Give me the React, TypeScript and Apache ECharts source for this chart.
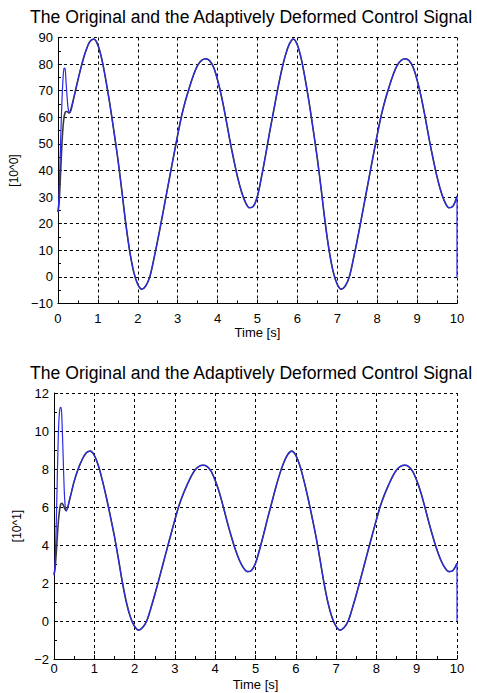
import React, { useEffect, useRef } from "react";
import * as echarts from "echarts";

const TITLE = "The Original and the Adaptively Deformed Control Signal";
const X_NAME = "Time [s]";
const TOP_Y_NAME = "[10^0]";
const BOTTOM_Y_NAME = "[10^1]";

const TIME = [
  0, 0.025, 0.05, 0.075, 0.1, 0.125, 0.15, 0.175, 0.2, 0.225, 0.25, 0.275, 0.3,
  0.4, 0.5, 0.6, 0.7, 0.8, 0.9, 1.0,
  1.1, 1.2, 1.3, 1.4, 1.5, 1.6, 1.7, 1.8, 1.9, 2.0,
  2.1, 2.2, 2.3, 2.4, 2.5, 2.6, 2.7, 2.8, 2.9, 3.0,
  3.1, 3.2, 3.3, 3.4, 3.5, 3.6, 3.7, 3.8, 3.9, 4.0,
  4.1, 4.2, 4.3, 4.4, 4.5, 4.6, 4.7, 4.8, 4.9, 5.0,
  5.1, 5.2, 5.3, 5.4, 5.5, 5.6, 5.7, 5.8, 5.9, 6.0,
  6.1, 6.2, 6.3, 6.4, 6.5, 6.6, 6.7, 6.8, 6.9, 7.0,
  7.1, 7.2, 7.3, 7.4, 7.5, 7.6, 7.7, 7.8, 7.9, 8.0,
  8.1, 8.2, 8.3, 8.4, 8.5, 8.6, 8.7, 8.8, 8.9, 9.0,
  9.1, 9.2, 9.3, 9.4, 9.5, 9.6, 9.7, 9.8, 9.9, 10.0,
];

const TOP_ORIGINAL = [
  24.4, 27, 34, 42, 50, 56, 59.8, 61.6, 62.2, 62.2, 61.9, 61.6, 61.8,
  67.5, 74, 80, 85, 88.5, 89.4, 87.2,
  81.8, 74, 65, 55, 44.5, 32.5, 20, 9.5, 1.8, -2.8,
  -4.6, -3.4, 0, 6.5, 13.8, 21.6, 29.6, 37.6, 45.5, 53.3,
  60.6, 66.5, 71.5, 76, 79.5, 81.4, 82, 81.3, 78.8, 74,
  67.8, 60.2, 52, 44.5, 37.6, 32, 28, 26, 26.6, 30.4,
  37.5, 45.5, 54, 62, 70, 77.3, 83.3, 87.6, 89.4, 87.2,
  81.8, 74, 65, 55, 44.5, 32.5, 20, 9.5, 1.8, -2.8,
  -4.6, -3.4, 0, 6.5, 13.8, 21.6, 29.6, 37.6, 45.5, 53.3,
  60.6, 66.5, 71.5, 76, 79.5, 81.4, 82, 81.3, 78.8, 74,
  67.8, 60.2, 52, 44.5, 37.6, 32, 28, 26, 26.6, 30.4,
];

const TOP_DEFORMED = [
  24.4, 30, 42, 55, 66, 74, 78.3, 78.5, 74, 68.5, 64, 62, 61.8,
  67.5, 74, 80, 85, 88.5, 89.4, 87.2,
  81.8, 74, 65, 55, 44.5, 32.5, 20, 9.5, 1.8, -2.8,
  -4.6, -3.4, 0, 6.5, 13.8, 21.6, 29.6, 37.6, 45.5, 53.3,
  60.6, 66.5, 71.5, 76, 79.5, 81.4, 82, 81.3, 78.8, 74,
  67.8, 60.2, 52, 44.5, 37.6, 32, 28, 26, 26.6, 30.4,
  37.5, 45.5, 54, 62, 70, 77.3, 83.3, 87.6, 89.4, 87.2,
  81.8, 74, 65, 55, 44.5, 32.5, 20, 9.5, 1.8, -2.8,
  -4.6, -3.4, 0, 6.5, 13.8, 21.6, 29.6, 37.6, 45.5, 53.3,
  60.6, 66.5, 71.5, 76, 79.5, 81.4, 82, 81.3, 78.8, 74,
  67.8, 60.2, 52, 44.5, 37.6, 32, 28, 26, 26.6, 30.4,
];

const BOTTOM_ORIGINAL = [
  2.44, 2.7, 3.4, 4.2, 5.0, 5.6, 6.0, 6.18, 6.2, 6.12, 6.0, 5.87, 5.8,
  6.5, 7.35, 8.0, 8.5, 8.85, 8.94, 8.72,
  8.18, 7.4, 6.5, 5.5, 4.45, 3.25, 2.0, 0.95, 0.18, -0.28,
  -0.48, -0.34, 0, 0.65, 1.38, 2.16, 2.96, 3.76, 4.55, 5.33,
  6.06, 6.65, 7.15, 7.6, 7.95, 8.14, 8.2, 8.13, 7.88, 7.4,
  6.78, 6.02, 5.2, 4.45, 3.76, 3.2, 2.8, 2.6, 2.66, 3.04,
  3.75, 4.55, 5.4, 6.2, 7.0, 7.73, 8.33, 8.76, 8.94, 8.72,
  8.18, 7.4, 6.5, 5.5, 4.45, 3.25, 2.0, 0.95, 0.18, -0.28,
  -0.48, -0.34, 0, 0.65, 1.38, 2.16, 2.96, 3.76, 4.55, 5.33,
  6.06, 6.65, 7.15, 7.6, 7.95, 8.14, 8.2, 8.13, 7.88, 7.4,
  6.78, 6.02, 5.2, 4.45, 3.76, 3.2, 2.8, 2.6, 2.66, 3.04,
];

const BOTTOM_DEFORMED = [
  2.4, 3.0, 4.6, 6.9, 9.2, 10.7, 11.2, 11.25, 10.4, 8.8, 7.1, 6.1, 5.8,
  6.5, 7.35, 8.0, 8.5, 8.85, 8.94, 8.72,
  8.18, 7.4, 6.5, 5.5, 4.45, 3.25, 2.0, 0.95, 0.18, -0.28,
  -0.48, -0.34, 0, 0.65, 1.38, 2.16, 2.96, 3.76, 4.55, 5.33,
  6.06, 6.65, 7.15, 7.6, 7.95, 8.14, 8.2, 8.13, 7.88, 7.4,
  6.78, 6.02, 5.2, 4.45, 3.76, 3.2, 2.8, 2.6, 2.66, 3.04,
  3.75, 4.55, 5.4, 6.2, 7.0, 7.73, 8.33, 8.76, 8.94, 8.72,
  8.18, 7.4, 6.5, 5.5, 4.45, 3.25, 2.0, 0.95, 0.18, -0.28,
  -0.48, -0.34, 0, 0.65, 1.38, 2.16, 2.96, 3.76, 4.55, 5.33,
  6.06, 6.65, 7.15, 7.6, 7.95, 8.14, 8.2, 8.13, 7.88, 7.4,
  6.78, 6.02, 5.2, 4.45, 3.76, 3.2, 2.8, 2.6, 2.66, 3.04,
];

// final drop of the deformed signal at t = 10
const DEFORMED_END_TIME = 10;
const DEFORMED_END_VALUE = 0;

const FONT = "'Liberation Sans', Arial, Helvetica, sans-serif";
const BLUE = "#2a2ae8";
const BLACK = "#3a3a3a";

const pairs = (t: number[], v: number[]) => t.map((x, i) => [x, v[i]]);
const minusFmt = (v: number) => String(v).replace("-", "\u2212");

function makeXAxis(gridIndex: number, labelMargin: number, nameGap: number) {
  return {
    gridIndex,
    type: "value",
    min: 0,
    max: 10,
    interval: 1,
    name: X_NAME,
    nameLocation: "middle",
    nameGap,
    nameTextStyle: { color: "#000", fontSize: 13, fontFamily: FONT },
    axisLine: { show: true, onZero: false, lineStyle: { color: "#000", width: 1 } },
    axisTick: { show: true, inside: true, length: 4, lineStyle: { color: "#000" } },
    minorTick: { show: true, splitNumber: 2, length: 3, lineStyle: { color: "#000" } },
    axisLabel: { color: "#000", fontSize: 13, fontFamily: FONT, margin: labelMargin, formatter: minusFmt },
    splitLine: { show: true, lineStyle: { color: "#000", width: 1, type: [3, 3] } },
  };
}

function makeYAxis(gridIndex: number, min: number, max: number, interval: number, name: string) {
  return {
    gridIndex,
    type: "value",
    min,
    max,
    interval,
    name,
    nameLocation: "middle",
    nameRotate: 90,
    nameGap: 31,
    nameTextStyle: { color: "#000", fontSize: 12, fontFamily: FONT },
    axisLine: { show: true, onZero: false, lineStyle: { color: "#000", width: 1 } },
    axisTick: { show: true, inside: true, length: 4, lineStyle: { color: "#000" } },
    minorTick: { show: true, splitNumber: 2, length: 3, lineStyle: { color: "#000" } },
    axisLabel: { color: "#000", fontSize: 13, fontFamily: FONT, margin: 5, formatter: minusFmt },
    splitLine: { show: true, lineStyle: { color: "#000", width: 1, type: [3, 3] } },
  };
}

export default function App() {
  const ref = useRef<HTMLDivElement>(null);

  useEffect(() => {
    if (!ref.current) return;
    const chart = echarts.init(ref.current, undefined, { renderer: "svg" });
    const topDeformed = pairs(TIME, TOP_DEFORMED);
    topDeformed.push([DEFORMED_END_TIME, DEFORMED_END_VALUE]);
    const bottomDeformed = pairs(TIME, BOTTOM_DEFORMED);
    bottomDeformed.push([DEFORMED_END_TIME, DEFORMED_END_VALUE]);

    const titleStyle = { fontSize: 17.6, fontWeight: "normal", color: "#000", fontFamily: FONT };

    chart.setOption({
      animation: false,
      backgroundColor: "#fff",
      title: [
        { text: TITLE, left: 30, top: 8, padding: 0, textStyle: titleStyle },
        { text: TITLE, left: 30, top: 364, padding: 0, textStyle: titleStyle },
      ],
      grid: [
        { left: 54, top: 37.5, width: 403, height: 266 },
        { left: 54, top: 393, width: 403, height: 266 },
      ],
      xAxis: [makeXAxis(0, 8, 22), makeXAxis(1, 3, 19)],
      yAxis: [
        makeYAxis(0, -10, 90, 10, TOP_Y_NAME),
        makeYAxis(1, -2, 12, 2, BOTTOM_Y_NAME),
      ],
      series: [
        {
          type: "line", xAxisIndex: 0, yAxisIndex: 0, data: pairs(TIME, TOP_ORIGINAL),
          smooth: 0.35, showSymbol: false, lineStyle: { color: BLACK, width: 1.6 }, z: 2,
        },
        {
          type: "line", xAxisIndex: 0, yAxisIndex: 0, data: topDeformed,
          smooth: 0.35, showSymbol: false, lineStyle: { color: BLUE, width: 1.2 }, z: 3,
        },
        {
          type: "line", xAxisIndex: 1, yAxisIndex: 1, data: pairs(TIME, BOTTOM_ORIGINAL),
          smooth: 0.35, showSymbol: false, lineStyle: { color: BLACK, width: 1.6 }, z: 2,
        },
        {
          type: "line", xAxisIndex: 1, yAxisIndex: 1, data: bottomDeformed,
          smooth: 0.35, showSymbol: false, lineStyle: { color: BLUE, width: 1.2 }, z: 3,
        },
      ],
    });
    return () => chart.dispose();
  }, []);

  return (
    <div
      ref={ref}
      style={{ position: "fixed", left: 0, top: 0, width: 477, height: 693, background: "#fff" }}
    />
  );
}
